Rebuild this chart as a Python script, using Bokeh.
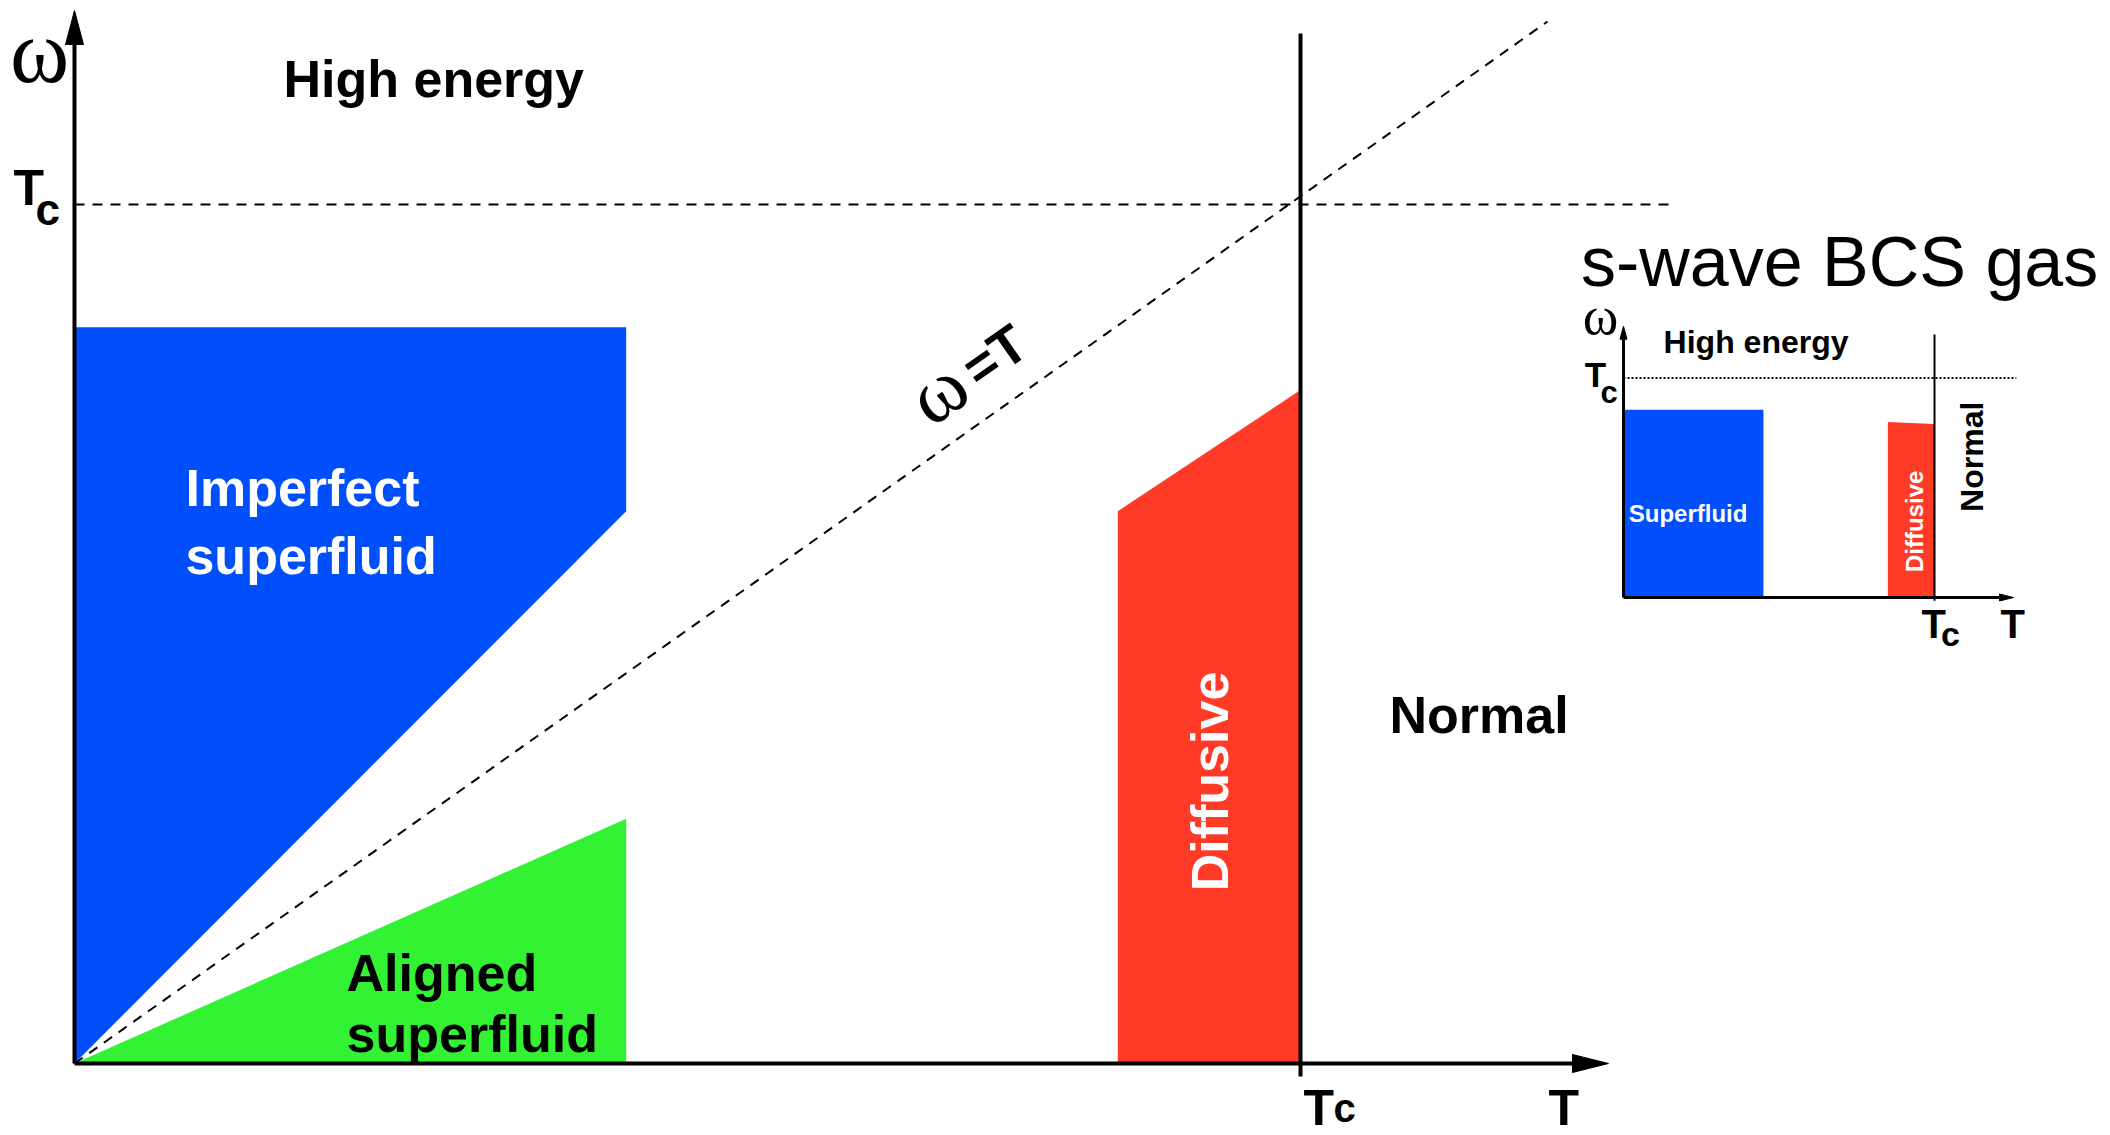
import math
from bokeh.plotting import figure
from bokeh.models import Range1d
from bokeh.core.properties import value
from bokeh.embed import file_html
from bokeh.resources import INLINE

# ---------------- data (T and omega in units of Tc) ----------------
T_C = 1.0
# main schematic
imperfect_T = [0.0, 0.45, 0.45, 0.0]
imperfect_w = [0.857, 0.857, 0.643, 0.0]
aligned_T = [0.0, 0.45, 0.45]
aligned_w = [0.0, 0.285, 0.0]
diffusive_T = [0.851, 1.0, 1.0, 0.851]
diffusive_w = [0.643, 0.784, 0.0, 0.0]
diag_T = [0.0, 1.2015]
diag_w = [0.0, 1.213]
tc_line_T_end = 1.3026
axis_T_end = 1.2512
axis_w_end = 1.2258
tc_vert_w = [-0.015, 1.199]

# inset: s-wave BCS gas
bcs_sf_T = [0.0, 0.45, 0.45, 0.0]
bcs_sf_w = [0.855, 0.855, 0.0, 0.0]
bcs_diff_T = [0.85, 1.0, 1.0, 0.85]
bcs_diff_w = [0.80, 0.79, 0.0, 0.0]
bcs_tc_line_T_end = 1.263
bcs_axis_T_end = 1.254
bcs_axis_w_end = 1.236
bcs_tc_vert_w = [-0.015, 1.198]

BLUE = "#004FFA"
GREEN = "#33F233"
RED = "#FF3B28"

# ---------------- page geometry ----------------
W, H, PAGE = 2110, 1135, 0
MX0, MY0, MSX, MSY = 74, 1063, 1226.0, 859.0      # main: origin px, px per Tc
IX0, IY0, ISX, ISY = 1623, 597, 311.0, 219.5      # inset

p = figure(width=W, height=H, output_backend="svg", toolbar_location=None,
           x_axis_type=None, y_axis_type=None, min_border=0,
           x_range=Range1d((PAGE - MX0) / MSX, (PAGE + W - MX0) / MSX),
           y_range=Range1d((MY0 - (PAGE + H)) / MSY, (MY0 - PAGE) / MSY))
p.outline_line_color = None
p.background_fill_color = "white"
p.border_fill_color = "white"
p.extra_x_ranges = {"ix": Range1d((PAGE - IX0) / ISX, (PAGE + W - IX0) / ISX)}
p.extra_y_ranges = {"iy": Range1d((IY0 - (PAGE + H)) / ISY, (IY0 - PAGE) / ISY)}

SANS = value("Liberation Sans")
SERIF = value("Liberation Serif")
INS = dict(x_range_name="ix", y_range_name="iy")


def up_head(x, y, L, Wd, sx, sy):
    return [x - Wd / 2 / sx, x, x + Wd / 2 / sx], [y - L / sy, y, y - L / sy]


def right_head(x, y, L, Wd, sx, sy):
    return [x - L / sx, x, x - L / sx], [y - Wd / 2 / sy, y, y + Wd / 2 / sy]


def txt(x, y, s, size, color="black", bold=True, font=SANS, align="left",
        baseline="alphabetic", angle=0.0, **kw):
    # small screen-space lift along the text's "up" direction
    d = (0.35 if baseline == "alphabetic" else 0.22) * size
    p.text(x=[x], y=[y], text=[s], text_font=font, text_font_size=f"{size}px",
           text_font_style="bold" if bold else "normal", text_color=color,
           text_align=align, text_baseline=baseline, angle=angle,
           x_offset=-math.sin(angle) * d, y_offset=-math.cos(angle) * d, **kw)


# ---------------- main schematic ----------------
p.patch(imperfect_T, imperfect_w, fill_color=BLUE, line_color=None)
p.patch(aligned_T, aligned_w, fill_color=GREEN, line_color=None)
p.patch(diffusive_T, diffusive_w, fill_color=RED, line_color=None)

p.line([0, tc_line_T_end], [T_C, T_C], line_color="black", line_width=2, line_dash="10 8")
p.line(diag_T, diag_w, line_color="black", line_width=2, line_dash="10 8")

p.line([T_C, T_C], tc_vert_w, line_color="black", line_width=4)
p.line([0, 0], [0, axis_w_end - 20 / MSY], line_color="black", line_width=4)
p.line([0, axis_T_end - 20 / MSX], [0, 0], line_color="black", line_width=4)
hx, hy = up_head(0, axis_w_end, 34, 18, MSX, MSY)
p.patch(hx, hy, fill_color="black", line_color="black", line_width=1)
hx, hy = right_head(axis_T_end, 0, 36, 18, MSX, MSY)
p.patch(hx, hy, fill_color="black", line_color="black", line_width=1)

txt(-0.0285, 1.141, "ω", 90, bold=False, font=SERIF, align="center")
txt(-0.0498, 0.9988, "T", 50)
txt(-0.0318, 0.9767, "c", 44)
txt(1.0024, -0.0722, "T", 50)
txt(1.0269, -0.0680, "c", 40)
txt(1.2023, -0.0722, "T", 50)

txt(0.1705, 1.1246, "High energy", 52)
txt(0.0905, 0.6484, "Imperfect", 52, color="white")
txt(0.0905, 0.5693, "superfluid", 52, color="white")
txt(0.2219, 0.0838, "Aligned", 52)
txt(0.2219, 0.0128, "superfluid", 52)
txt(0.9413, 0.3283, "Diffusive", 52, color="white", align="center", angle=math.pi / 2)
txt(1.0726, 0.3842, "Normal", 52)
ang = math.radians(35)
txt(0.7120, 0.7660, "ω", 80, bold=False, font=SERIF, align="center", baseline="middle", angle=ang)
txt(0.7560, 0.8130, "=T", 54, align="center", baseline="middle", angle=ang)

# ---------------- inset: s-wave BCS gas ----------------
p.patch(bcs_sf_T, bcs_sf_w, fill_color=BLUE, line_color=None, **INS)
p.patch(bcs_diff_T, bcs_diff_w, fill_color=RED, line_color=None, **INS)
p.line([0, bcs_tc_line_T_end], [T_C, T_C], line_color="black", line_width=2,
       line_dash="2 2", **INS)
p.line([T_C, T_C], bcs_tc_vert_w, line_color="black", line_width=2, **INS)
p.line([0, 0], [0, bcs_axis_w_end - 8 / ISY], line_color="black", line_width=3, **INS)
p.line([0, bcs_axis_T_end - 8 / ISX], [0, 0], line_color="black", line_width=3, **INS)
hx, hy = up_head(0, bcs_axis_w_end, 13, 7, ISX, ISY)
p.patch(hx, hy, fill_color="black", line_color="black", line_width=1, **INS)
hx, hy = right_head(bcs_axis_T_end, 0, 14, 7, ISX, ISY)
p.patch(hx, hy, fill_color="black", line_color="black", line_width=1, **INS)

txt(-0.137, 1.4155, "s-wave BCS gas", 70, bold=False, **INS)
txt(-0.074, 1.195, "ω", 54, bold=False, font=SERIF, align="center", **INS)
txt(-0.125, 0.959, "T", 35, **INS)
txt(-0.074, 0.883, "c", 31, **INS)
txt(0.129, 1.111, "High energy", 32, **INS)
txt(0.017, 0.3455, "Superfluid", 24, color="white", **INS)
txt(0.9635, 0.347, "Diffusive", 24, color="white", align="center", angle=math.pi / 2, **INS)
txt(1.155, 0.641, "Normal", 32, align="center", angle=math.pi / 2, **INS)
txt(0.958, -0.183, "T", 40, **INS)
txt(1.0205, -0.2207, "c", 34, **INS)
txt(1.212, -0.183, "T", 40, **INS)

open("out.html", "w").write(file_html(p, INLINE))
